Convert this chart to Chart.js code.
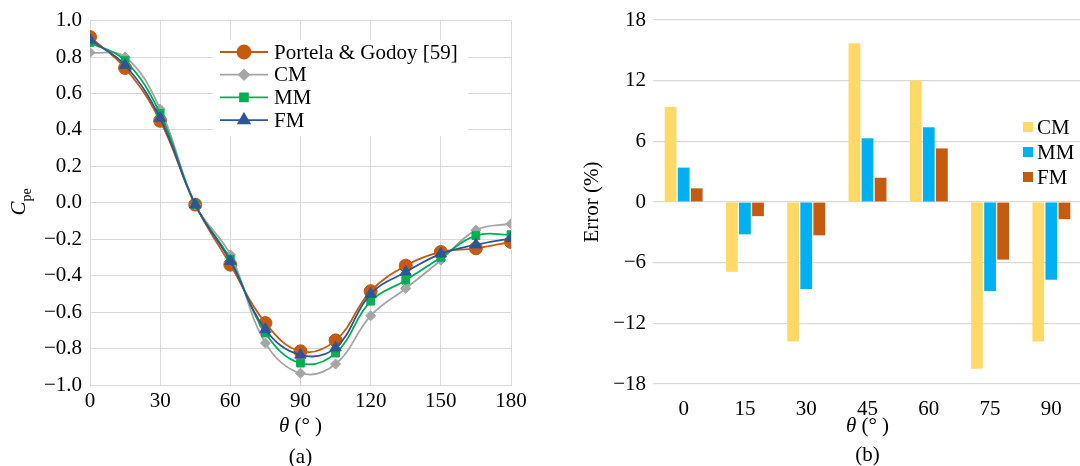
<!DOCTYPE html>
<html>
<head>
<meta charset="utf-8">
<script src="https://cdn.jsdelivr.net/npm/chart.js@4.4.0/dist/chart.umd.min.js"></script>
<style>
  html, body { margin: 0; padding: 0; background: #fff; overflow: hidden; width: 1080px; height: 466px; }
  #left { position: absolute; left: 0; top: 0; }
  #right { position: absolute; left: 540px; top: 0; }
</style>
</head>
<body>
<canvas id="left" width="540" height="466"></canvas>
<canvas id="right" width="545" height="466"></canvas>
<script>
// pressure coefficient around the cylinder, theta in degrees
const angles = [0, 15, 30, 45, 60, 75, 90, 105, 120, 135, 150, 165, 180]
const portela = [0.91, 0.74, 0.45, -0.01, -0.34, -0.66, -0.815, -0.755, -0.485, -0.345, -0.27, -0.25, -0.215]
const cmCpe = [0.825, 0.80, 0.515, -0.01, -0.285, -0.77, -0.935, -0.885, -0.62, -0.47, -0.315, -0.15, -0.115]
const mmCpe = [0.88, 0.78, 0.49, -0.01, -0.31, -0.715, -0.88, -0.825, -0.54, -0.425, -0.30, -0.18, -0.175]
const fmCpe = [0.895, 0.755, 0.465, -0.01, -0.32, -0.695, -0.835, -0.795, -0.50, -0.38, -0.28, -0.23, -0.195]

// error of each model (%)
const errAngles = ['0', '15', '30', '45', '60', '75', '90']
const errCM = [9.4, -6.9, -13.8, 15.7, 12.0, -16.5, -13.8]
const errMM = [3.4, -3.2, -8.6, 6.3, 7.4, -8.8, -7.7]
const errFM = [1.35, -1.4, -3.3, 2.4, 5.3, -5.7, -1.7]

const serif = '"Liberation Serif"'
const tickFont = { family: serif, size: 21 }
const gridColor = '#D9D9D9'
const minus = v => (v < 0 ? '\u2212' : '') + Math.abs(v)

const lineSeries = [
    { label: 'Portela & Godoy [59]', data: portela, color: '#C55A11', style: 'circle', radius: 6.5 },
    { label: 'CM', data: cmCpe, color: '#A5A5A5', style: 'rectRot', radius: 5 },
    { label: 'MM', data: mmCpe, color: '#00B050', style: 'rect', radius: 5.5 },
    { label: 'FM', data: fmCpe, color: '#2F5597', style: 'triangle', radius: 6.5 }
]

// italic theta followed by the unit
const drawTheta = (ctx, cx, cy) => {
    ctx.font = 'italic 21px ' + serif
    const w1 = ctx.measureText('\u03B8').width
    ctx.font = '21px ' + serif
    const rest = ' (\u00B0 )'
    const w2 = ctx.measureText(rest).width
    const x0 = cx - (w1 + w2) / 2
    ctx.textAlign = 'left'
    ctx.textBaseline = 'middle'
    ctx.font = 'italic 21px ' + serif
    ctx.fillText('\u03B8', x0, cy)
    ctx.font = '21px ' + serif
    ctx.fillText(rest, x0 + w1, cy)
}

const leftText = {
    id: 'leftText',
    afterDatasetsDraw(chart) {
        const ctx = chart.ctx
        const area = chart.chartArea
        ctx.save()

        // legend box with line + marker samples
        ctx.fillStyle = '#fff'
        ctx.fillRect(213, 40, 255, 96)
        lineSeries.forEach((s, i) => {
            const y = 52 + i * 22.7
            ctx.strokeStyle = s.color
            ctx.lineWidth = 1.8
            ctx.beginPath()
            ctx.moveTo(220, y)
            ctx.lineTo(268, y)
            ctx.stroke()
            ctx.fillStyle = s.color
            Chart.helpers.drawPoint(ctx, { pointStyle: s.style, radius: s.radius, rotation: 0, borderWidth: 1 }, 244, y)
            ctx.fillStyle = '#000'
            ctx.font = '21px ' + serif
            ctx.textAlign = 'left'
            ctx.textBaseline = 'middle'
            ctx.fillText(s.label, 274, y + 1)
        })

        ctx.fillStyle = '#000'
        const cx = (area.left + area.right) / 2
        drawTheta(ctx, cx, 426)
        ctx.font = '21px ' + serif
        ctx.textAlign = 'center'
        ctx.fillText('(a)', cx, 457)

        // C_pe, rotated
        ctx.translate(18, 202)
        ctx.rotate(-Math.PI / 2)
        ctx.font = 'italic 21px ' + serif
        const wc = ctx.measureText('C').width
        ctx.font = '14px ' + serif
        const ws = ctx.measureText('pe').width
        const start = -(wc + ws) / 2
        ctx.textBaseline = 'alphabetic'
        ctx.textAlign = 'left'
        ctx.font = 'italic 21px ' + serif
        ctx.fillText('C', start, 7)
        ctx.font = '14px ' + serif
        ctx.fillText('pe', start + wc, 13)
        ctx.restore()
    }
}

new Chart(document.getElementById('left'), {
    type: 'line',
    data: {
        labels: angles,
        datasets: lineSeries.map((s, i) => ({
            label: s.label,
            data: s.data.map((v, j) => ({ x: angles[j], y: v })),
            borderColor: s.color,
            backgroundColor: s.color,
            borderWidth: 1.8,
            pointStyle: s.style,
            pointRadius: s.radius,
            pointBorderWidth: 1,
            tension: 0.4,
            order: lineSeries.length - i
        }))
    },
    options: {
        responsive: false,
        animation: false,
        devicePixelRatio: 1,
        layout: { padding: { top: 20, right: 29, left: 0, bottom: 0 } },
        plugins: { legend: { display: false }, tooltip: { enabled: false } },
        scales: {
            x: {
                type: 'linear', min: 0, max: 180,
                ticks: { stepSize: 30, font: tickFont, color: '#000', padding: 4, maxRotation: 0 },
                grid: { color: gridColor, drawTicks: false },
                border: { color: gridColor },
                afterFit: s => { s.height = 81 }
            },
            y: {
                min: -1, max: 1,
                ticks: { stepSize: 0.2, font: tickFont, color: '#000', padding: 8,
                    callback: v => (v < -1e-9 ? '\u2212' : '') + Math.abs(v).toFixed(1) },
                grid: { color: gridColor, drawTicks: false },
                border: { color: gridColor },
                afterFit: s => { s.width = 90 }
            }
        }
    },
    plugins: [leftText]
})

const barSeries = [
    { label: 'CM', data: errCM, color: '#FFD966' },
    { label: 'MM', data: errMM, color: '#00B0F0' },
    { label: 'FM', data: errFM, color: '#C55A11' }
]

const rightText = {
    id: 'rightText',
    afterDatasetsDraw(chart) {
        const ctx = chart.ctx
        const area = chart.chartArea
        ctx.save()
        barSeries.forEach((s, i) => {
            const y = 127 + i * 25
            ctx.fillStyle = s.color
            ctx.fillRect(483, y - 5, 10, 10)
            ctx.fillStyle = '#000'
            ctx.font = '21px ' + serif
            ctx.textAlign = 'left'
            ctx.textBaseline = 'middle'
            ctx.fillText(s.label, 497, y + 1)
        })

        ctx.fillStyle = '#000'
        const cx = (area.left + area.right) / 2
        drawTheta(ctx, cx, 426)
        ctx.font = '21px ' + serif
        ctx.textAlign = 'center'
        ctx.fillText('(b)', cx, 455)

        ctx.translate(52, 202)
        ctx.rotate(-Math.PI / 2)
        ctx.textAlign = 'center'
        ctx.textBaseline = 'middle'
        ctx.fillText('Error (%)', 0, 0)
        ctx.restore()
    }
}

new Chart(document.getElementById('right'), {
    type: 'bar',
    data: {
        labels: errAngles,
        datasets: barSeries.map(s => ({
            label: s.label,
            data: s.data,
            backgroundColor: s.color,
            borderWidth: 0,
            categoryPercentage: 0.64,
            barPercentage: 0.9
        }))
    },
    options: {
        responsive: false,
        animation: false,
        devicePixelRatio: 1,
        layout: { padding: { top: 20, right: 3, left: 0, bottom: 0 } },
        plugins: { legend: { display: false }, tooltip: { enabled: false } },
        scales: {
            x: {
                ticks: { font: tickFont, color: '#000', padding: 5, maxRotation: 0 },
                grid: { display: false },
                border: { display: false },
                afterFit: s => { s.height = 82 }
            },
            y: {
                min: -18, max: 18,
                ticks: { stepSize: 6, font: tickFont, color: '#000', padding: 7, callback: minus },
                grid: { color: gridColor, drawTicks: false, lineWidth: 1.2 },
                border: { display: false },
                afterFit: s => { s.width = 113 }
            }
        }
    },
    plugins: [rightText]
})
</script>
</body>
</html>
